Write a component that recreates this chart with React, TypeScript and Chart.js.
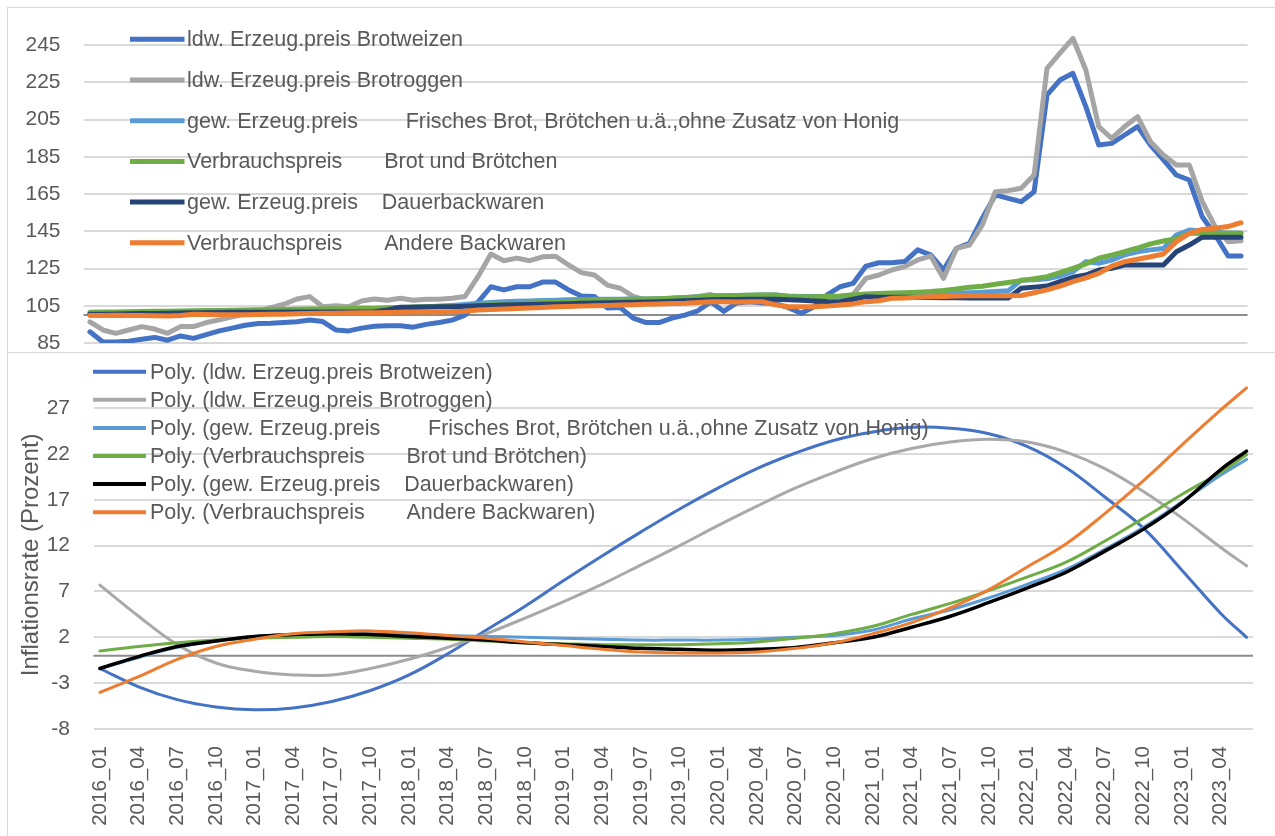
import React, { useEffect, useRef } from "react";
import { Chart, registerables } from "chart.js";

Chart.register(...registerables);

const FONT = "'Liberation Sans', Arial, sans-serif";
const TEXT = "#595959";
const GRID = "#d9d9d9";

const categories: string[] = [
  "2016_01","2016_02","2016_03","2016_04","2016_05","2016_06","2016_07","2016_08","2016_09","2016_10","2016_11","2016_12",
  "2017_01","2017_02","2017_03","2017_04","2017_05","2017_06","2017_07","2017_08","2017_09","2017_10","2017_11","2017_12",
  "2018_01","2018_02","2018_03","2018_04","2018_05","2018_06","2018_07","2018_08","2018_09","2018_10","2018_11","2018_12",
  "2019_01","2019_02","2019_03","2019_04","2019_05","2019_06","2019_07","2019_08","2019_09","2019_10","2019_11","2019_12",
  "2020_01","2020_02","2020_03","2020_04","2020_05","2020_06","2020_07","2020_08","2020_09","2020_10","2020_11","2020_12",
  "2021_01","2021_02","2021_03","2021_04","2021_05","2021_06","2021_07","2021_08","2021_09","2021_10","2021_11","2021_12",
  "2022_01","2022_02","2022_03","2022_04","2022_05","2022_06","2022_07","2022_08","2022_09","2022_10","2022_11","2022_12",
  "2023_01","2023_02","2023_03","2023_04","2023_05","2023_06",
];

const topTicks = [85, 105, 125, 145, 165, 185, 205, 225, 245];
const bottomTicks = [-8, -3, 2, 7, 12, 17, 22, 27];

const labelWeizen = "ldw. Erzeug.preis Brotweizen";
const labelRoggen = "ldw. Erzeug.preis Brotroggen";
const labelFrisch = "gew. Erzeug.preis        Frisches Brot, Brötchen u.ä.,ohne Zusatz von Honig";
const labelBrot = "Verbrauchspreis       Brot und Brötchen";
const labelDauer = "gew. Erzeug.preis    Dauerbackwaren";
const labelAndere = "Verbrauchspreis       Andere Backwaren";

// Index values (top chart)
const weizen = [
  91, 85.5, 85.5, 86, 87, 88, 86.5, 88.8, 87.5, 89.5, 91.5, 93,
  94.5, 95.5, 95.6, 96, 96.4, 97.4, 96.5, 92, 91.5, 93, 94, 94.3,
  94.3, 93.5, 95, 96, 97.3, 100, 107, 115.2, 113.5, 115.2, 115.2, 117.7,
  117.7, 113.5, 110.2, 110, 103.8, 104, 98.4, 96, 96, 98.4, 100, 102.3,
  107, 102, 106.5, 107.2, 106.5, 106.3, 104, 101, 104.5, 110.8, 115.2, 117,
  126.3, 128.1, 128.1, 128.7, 135, 132.3, 124.2, 135.8, 138.5, 152, 164.5, 162.7,
  160.9, 166.2, 218.2, 226.2, 229.8, 211.9, 191.3, 192.2, 196.7, 201.2, 191.3, 183.3,
  175.2, 172.5, 152.8, 143, 131.7, 131.7,
];
const roggen = [
  96.4, 92, 90.2, 92, 93.8, 92.5, 90.2, 93.8, 93.8, 96, 97.4, 99,
  100.5, 102, 104, 105.8, 108.6, 109.9, 104.5, 105, 104.5, 107.6, 108.6, 108,
  109, 108, 108.5, 108.5, 109, 110, 120.6, 132.8, 129.2, 130.6, 129.2, 131.3,
  131.6, 126.9, 122.8, 121.5, 116.1, 114.4, 110, 108, 108.5, 109, 109.5, 110,
  111, 109, 108, 108.5, 109, 109.5, 109.5, 109.5, 109.7, 110, 110, 111,
  119.7, 121.5, 124.2, 126, 129.6, 131.7, 119.7, 135.8, 137.6, 148.4, 166.2, 166.8,
  168.1, 175.2, 232.5, 240.6, 248.6, 231.6, 201.2, 194.9, 201.2, 206.5, 193.1, 186,
  180.6, 180.6, 160.9, 147.5, 139.4, 139.9,
];
const frischBrot = [
  100.8, 100.9, 101, 101, 101.1, 101.2, 101.3, 101.4, 101.5, 101.6, 101.7, 101.8,
  102, 102.1, 102.2, 102.3, 102.4, 102.6, 102.7, 102.8, 103, 103.1, 103.3, 103.5,
  103.8, 104.2, 104.5, 104.8, 105.2, 105.7, 106.3, 106.8, 107.2, 107.4, 107.6, 107.8,
  108, 108.2, 108.4, 108.5, 108.5, 108.5, 108.6, 108.6, 108.8, 109, 109.3, 109.7,
  110.2, 110.4, 110.5, 110.7, 110.8, 110.8, 110.2, 110, 110, 110, 110, 110.2,
  110.4, 110.6, 110.8, 111, 111.2, 111.3, 111.5, 111.7, 112, 112.3, 112.6, 113,
  118.8, 119, 119.5, 121, 123.3, 128.7, 127.8, 129.5, 132.3, 134, 135, 135.8,
  143, 145.7, 145, 144.5, 144, 143.9,
];
const brotVerbrauch = [
  101.5, 101.6, 101.7, 101.8, 101.9, 102, 102.1, 102.2, 102.3, 102.4, 102.5, 102.6,
  102.7, 102.8, 102.9, 103, 103.1, 103.2, 103.3, 103.4, 103.5, 103.6, 103.7, 103.9,
  104.1, 104.3, 104.5, 104.7, 104.9, 105.1, 105.3, 105.6, 105.9, 106.2, 106.5, 106.8,
  107, 107.3, 107.7, 107.9, 108.1, 108.3, 108.5, 108.6, 108.8, 109, 109.3, 109.7,
  110.2, 110.4, 110.5, 110.6, 110.8, 110.8, 109.9, 109.9, 109.9, 110, 110.2, 110.8,
  111.3, 111.6, 111.8, 112, 112.3, 112.6, 113.2, 114, 114.9, 115.5, 116.5, 117.5,
  118.5, 119.5, 120.6, 122.8, 125.1, 127.5, 130.5, 132.2, 134, 136, 138.2, 139.8,
  141, 143.9, 143.9, 143.9, 143.9, 143.9,
];
const dauerback = [
  100.4, 100.5, 100.6, 100.7, 100.8, 100.9, 101, 101.1, 101.2, 101.3, 101.4, 101.5,
  101.5, 101.5, 101.5, 101.6, 101.6, 101.6, 101.6, 101.7, 101.7, 101.7, 101.8, 102.8,
  104.2, 104.2, 104.3, 104.4, 104.5, 104.7, 105, 105.2, 105.4, 105.5, 105.7, 105.8,
  106, 106.1, 106.3, 106.5, 106.6, 106.8, 106.9, 107, 107.2, 107.4, 107.7, 108,
  108.2, 108.3, 108.4, 108.5, 108.5, 108.5, 108.2, 108, 107.6, 107.3, 107.2, 108.5,
  109.9, 109.6, 109.5, 109.5, 109.4, 109.4, 109.3, 109.3, 109.2, 109.2, 109.1, 109.1,
  114.4, 115, 115.6, 118, 120.3, 121.5, 124.2, 125.1, 126.9, 126.9, 126.9, 126.9,
  134, 137.6, 141.8, 141.8, 141.8, 141.8,
];
const andereBack = [
  99.7, 99.8, 99.9, 99.8, 99.7, 99.6, 99.5, 99.8, 100.4, 100.3, 100.2, 100.2,
  100.2, 100.3, 100.4, 100.5, 100.7, 100.9, 101, 101, 101.1, 101.2, 101.3, 101.4,
  101.5, 101.6, 101.7, 101.7, 101.8, 102, 102.7, 103, 103.2, 103.5, 103.8, 104.1,
  104.5, 104.6, 104.8, 105, 105.2, 105.4, 105.6, 105.8, 106, 106.2, 106.3, 106.7,
  107.2, 107.1, 107, 107.1, 107.2, 105.5, 104.5, 104.5, 104.5, 104.8, 105.4, 106,
  107.2, 107.7, 109, 109.2, 109.5, 109.9, 110, 110.2, 110.4, 110.4, 110.4, 110.4,
  110.5, 112, 113.5, 115.5, 117.9, 120, 122.4, 126.3, 128.7, 130, 131.3, 132.8,
  139.4, 143.9, 146, 146.6, 147.5, 149.6,
];

// Polynomial trend readings (bottom chart), at these month indices
const polyIndex = [0, 3, 6, 9, 12, 15, 18, 21, 24, 27, 30, 33, 36, 39, 42, 45, 48, 51, 54, 57, 60, 63, 66, 69, 72, 75, 78, 81, 84, 87, 89];
const polyWeizen = [-1.4, -3.4, -4.8, -5.6, -5.9, -5.7, -5.0, -3.8, -2.1, 0.2, 2.8, 5.4, 8.2, 10.9, 13.5, 16.0, 18.3, 20.4, 22.1, 23.5, 24.4, 24.9, 24.8, 24.2, 22.8, 20.5, 17.3, 13.9, 9.3, 4.6, 2.0];
const polyRoggen = [7.7, 4.3, 1.2, -0.8, -1.7, -2.1, -2.1, -1.4, -0.4, 0.9, 2.4, 4.1, 5.9, 7.8, 9.9, 12.0, 14.2, 16.3, 18.3, 20.0, 21.5, 22.6, 23.3, 23.6, 23.3, 22.2, 20.4, 17.9, 15.0, 11.8, 9.8];
const polyFrisch = [-1.4, -0.2, 0.9, 1.6, 2.1, 2.3, 2.4, 2.4, 2.3, 2.2, 2.1, 2.0, 1.9, 1.8, 1.7, 1.7, 1.7, 1.8, 2.0, 2.2, 2.8, 4.0, 5.0, 6.3, 7.8, 9.4, 11.6, 14.0, 16.8, 19.7, 21.4];
const polyBrot = [0.5, 1.0, 1.4, 1.7, 1.9, 2.0, 2.1, 2.0, 1.9, 1.8, 1.6, 1.4, 1.3, 1.2, 1.2, 1.2, 1.3, 1.5, 1.9, 2.4, 3.2, 4.5, 5.7, 7.1, 8.6, 10.2, 12.5, 15.0, 17.6, 20.0, 21.9];
const polyDauer = [-1.4, -0.1, 1.0, 1.6, 2.1, 2.3, 2.4, 2.3, 2.1, 1.9, 1.7, 1.4, 1.2, 1.0, 0.8, 0.7, 0.6, 0.7, 0.9, 1.4, 2.0, 3.1, 4.3, 5.8, 7.4, 9.1, 11.4, 13.8, 16.7, 20.3, 22.3];
const polyAndere = [-4.0, -2.3, -0.4, 1.0, 1.8, 2.4, 2.6, 2.7, 2.5, 2.2, 1.9, 1.5, 1.1, 0.7, 0.4, 0.3, 0.3, 0.4, 0.8, 1.4, 2.4, 3.6, 5.2, 7.2, 9.7, 12.2, 15.5, 19.1, 23.0, 26.8, 29.2];

const COLORS = {
  blue: "#4472C4",
  gray: "#A5A5A5",
  lightBlue: "#5B9BD5",
  green: "#70AD47",
  navy: "#264478",
  orange: "#ED7D31",
  black: "#000000",
};

const expand = (vals: number[]) =>
  categories.map((_, i) => {
    const k = polyIndex.indexOf(i);
    return k >= 0 ? vals[k] : null;
  });

const legendPlugin = {
  id: "customLegend",
  afterDatasetsDraw(chart: any, _args: any, opts: any) {
    const ctx = chart.ctx;
    ctx.save();
    ctx.font = `${opts.fontSize}px ${FONT}`;
    ctx.textBaseline = "middle";
    ctx.textAlign = "left";
    chart.data.datasets.forEach((ds: any, i: number) => {
      const y = opts.y0 + i * opts.dy;
      ctx.strokeStyle = ds.borderColor;
      ctx.lineWidth = opts.lineWidth;
      ctx.lineCap = "butt";
      ctx.beginPath();
      ctx.moveTo(opts.x0, y);
      ctx.lineTo(opts.x1, y);
      ctx.stroke();
      ctx.fillStyle = TEXT;
      ctx.fillText(ds.label, opts.tx, y + 1);
    });
    ctx.restore();
  },
};

const baselinePlugin = {
  id: "baseline",
  beforeDatasetsDraw(chart: any, _args: any, opts: any) {
    const ctx = chart.ctx;
    const y = chart.scales.y.getPixelForValue(opts.value);
    const { left, right } = chart.chartArea;
    ctx.save();
    ctx.strokeStyle = "#8c8c8c";
    ctx.lineWidth = 2;
    ctx.beginPath();
    ctx.moveTo(left, y);
    ctx.lineTo(right, y);
    ctx.stroke();
    ctx.restore();
  },
};

function TopChart() {
  const ref = useRef<HTMLCanvasElement>(null);
  useEffect(() => {
    if (!ref.current) return;
    const series = [
      { label: labelWeizen, data: weizen, color: COLORS.blue },
      { label: labelRoggen, data: roggen, color: COLORS.gray },
      { label: labelFrisch, data: frischBrot, color: COLORS.lightBlue },
      { label: labelBrot, data: brotVerbrauch, color: COLORS.green },
      { label: labelDauer, data: dauerback, color: COLORS.navy },
      { label: labelAndere, data: andereBack, color: COLORS.orange },
    ];
    const chart = new Chart(ref.current, {
      type: "line",
      data: {
        labels: categories,
        datasets: series.map((s, i) => ({
          label: s.label,
          data: s.data,
          borderColor: s.color,
          backgroundColor: s.color,
          borderWidth: 5,
          pointRadius: 0,
          tension: 0,
          borderJoinStyle: "round" as const,
          borderCapStyle: "round" as const,
          order: series.length - i,
        })),
      },
      options: {
        animation: false,
        responsive: false,
        devicePixelRatio: 1,
        events: [],
        layout: { padding: { left: 0, right: 26.5, top: 18.4, bottom: 8 } },
        scales: {
          x: { type: "category", offset: true, display: false },
          y: {
            min: 85,
            max: 255,
            afterBuildTicks: (s: any) => {
              s.ticks = topTicks.map((v) => ({ value: v }));
            },
            afterFit: (s: any) => {
              s.width = 75.5;
              s.paddingTop = 0;
              s.paddingBottom = 0;
            },
            grid: { color: GRID, lineWidth: 2, drawTicks: false },
            border: { display: false },
            ticks: {
              padding: 23,
              color: TEXT,
              font: { family: FONT, size: 21 },
              callback: (v: any) => String(v),
            },
          },
        },
        plugins: {
          legend: { display: false },
          tooltip: { enabled: false },
          customLegend: { x0: 122, x1: 176.5, tx: 179, y0: 31.3, dy: 40.7, lineWidth: 5, fontSize: 21.5 },
          baseline: { value: 100 },
        } as any,
      },
      plugins: [legendPlugin, baselinePlugin],
    });
    return () => chart.destroy();
  }, []);
  return <canvas ref={ref} width={1266} height={343} style={{ width: 1266, height: 343, display: "block" }} />;
}

function BottomChart() {
  const ref = useRef<HTMLCanvasElement>(null);
  useEffect(() => {
    if (!ref.current) return;
    const series = [
      { label: "Poly. (" + labelWeizen + ")", data: polyWeizen, color: COLORS.blue, w: 3 },
      { label: "Poly. (" + labelRoggen + ")", data: polyRoggen, color: "#A9A9A9", w: 3 },
      { label: "Poly. (" + labelFrisch + ")", data: polyFrisch, color: COLORS.lightBlue, w: 3 },
      { label: "Poly. (" + labelBrot + ")", data: polyBrot, color: COLORS.green, w: 3 },
      { label: "Poly. (" + labelDauer + ")", data: polyDauer, color: COLORS.black, w: 3.5 },
      { label: "Poly. (" + labelAndere + ")", data: polyAndere, color: COLORS.orange, w: 3 },
    ];
    const chart = new Chart(ref.current, {
      type: "line",
      data: {
        labels: categories,
        datasets: series.map((s, i) => ({
          label: s.label,
          data: expand(s.data),
          borderColor: s.color,
          backgroundColor: s.color,
          borderWidth: s.w,
          pointRadius: 0,
          spanGaps: true,
          tension: 0.4,
          borderCapStyle: "round" as const,
          order: series.length - i,
        })),
      },
      options: {
        animation: false,
        responsive: false,
        devicePixelRatio: 1,
        events: [],
        layout: { padding: { left: 0, right: 21, top: 27.6, bottom: 0 } },
        scales: {
          x: {
            type: "category",
            offset: true,
            grid: { display: false, drawTicks: false },
            border: { display: false },
            afterFit: (s: any) => {
              s.height = 107;
              s.paddingLeft = 0;
              s.paddingRight = 0;
            },
            ticks: {
              autoSkip: false,
              minRotation: 90,
              maxRotation: 90,
              padding: 17,
              color: TEXT,
              font: { family: FONT, size: 20.5 },
              callback: function (this: any, val: any, idx: number) {
                return idx % 3 === 0 ? this.getLabelForValue(val) : "";
              },
            },
          },
          y: {
            min: -8,
            max: 30,
            afterBuildTicks: (s: any) => {
              s.ticks = bottomTicks.map((v) => ({ value: v }));
            },
            afterFit: (s: any) => {
              s.width = 85.5;
              s.paddingTop = 0;
              s.paddingBottom = 0;
            },
            grid: { color: GRID, lineWidth: 2, drawTicks: false },
            border: { display: false },
            title: {
              display: true,
              text: "Inflationsrate (Prozent)",
              color: TEXT,
              font: { family: FONT, size: 24 },
              padding: { top: 9, bottom: 0 },
            },
            ticks: {
              padding: 23.5,
              color: TEXT,
              font: { family: FONT, size: 21 },
              callback: (v: any) => String(v),
            },
          },
        },
        plugins: {
          legend: { display: false },
          tooltip: { enabled: false },
          customLegend: { x0: 85, x1: 138, tx: 142, y0: 18.7, dy: 28.1, lineWidth: 4, fontSize: 21.5 },
          baseline: { value: 0 },
        } as any,
      },
      plugins: [legendPlugin, baselinePlugin],
    });
    return () => chart.destroy();
  }, []);
  return <canvas ref={ref} width={1266} height={483} style={{ width: 1266, height: 483, display: "block" }} />;
}

export default function App() {
  return (
    <div style={{ position: "absolute", left: 0, top: 0, width: 1275, height: 836, background: "#ffffff", overflow: "hidden" }}>
      <div style={{ position: "absolute", left: 7, top: 7, width: 1268, height: 344, border: "1px solid #d9d9d9" }}>
        <TopChart />
      </div>
      <div style={{ position: "absolute", left: 7, top: 352, width: 1268, height: 484, border: "1px solid #d9d9d9" }}>
        <BottomChart />
      </div>
    </div>
  );
}
